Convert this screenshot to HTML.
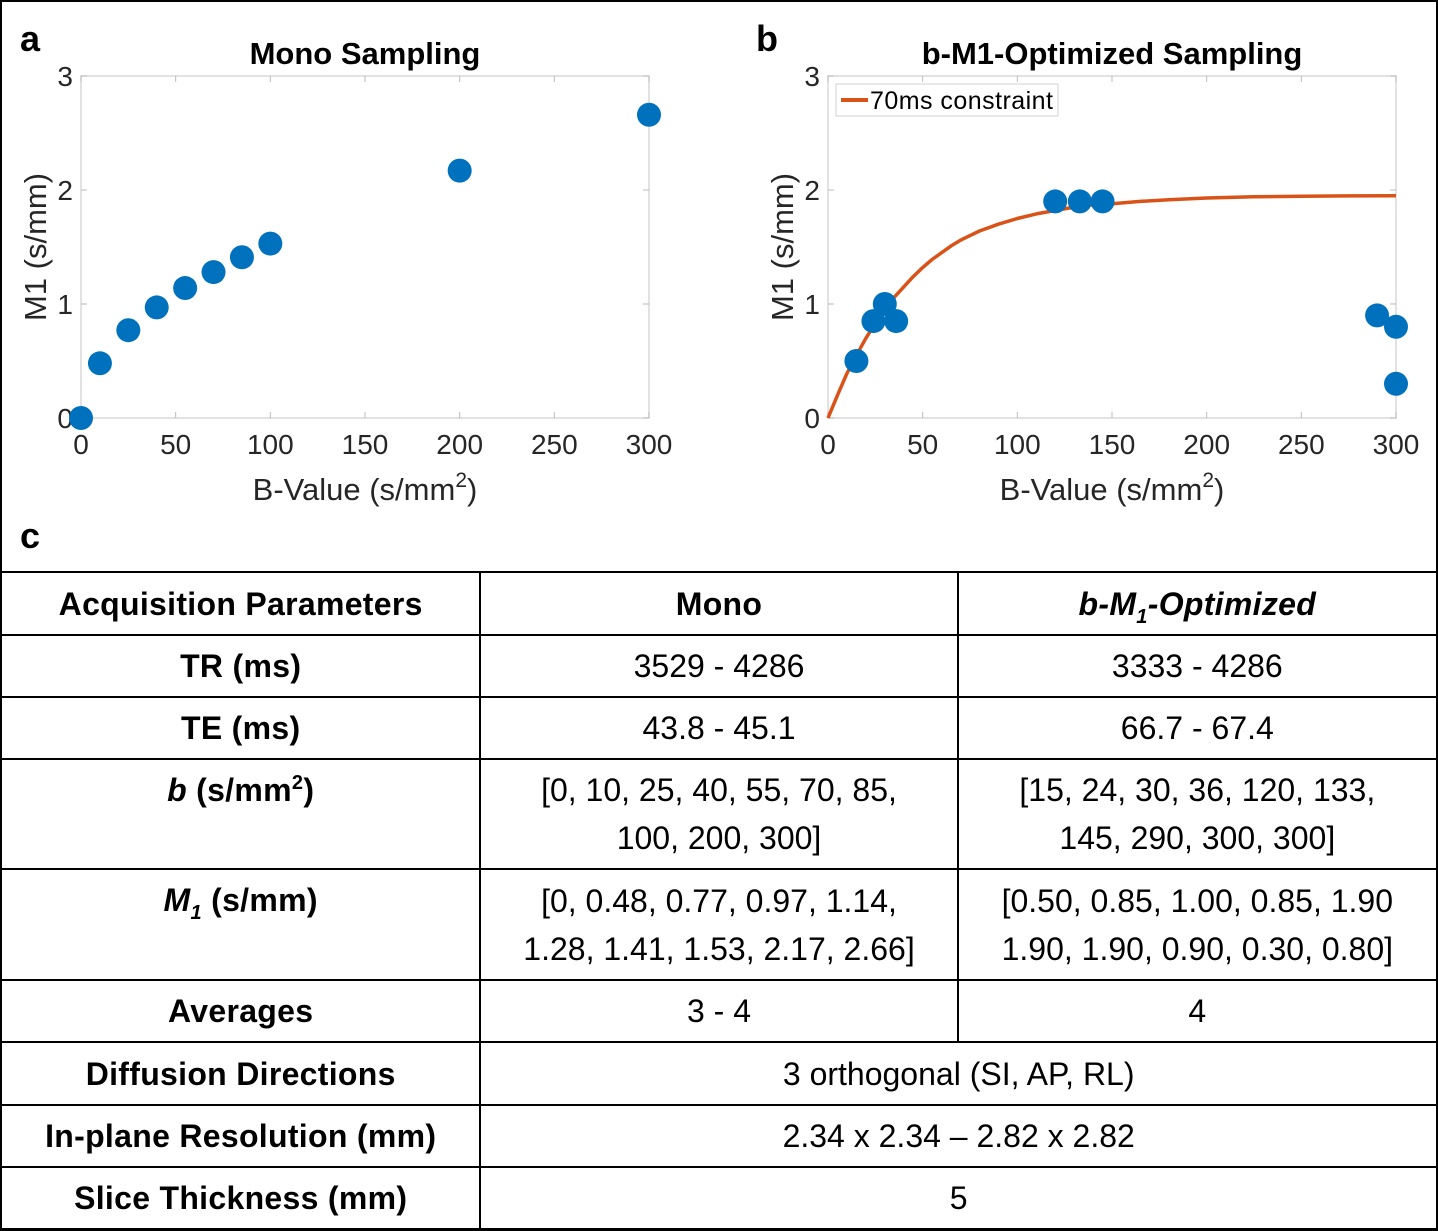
<!DOCTYPE html>
<html><head><meta charset="utf-8"><style>
body{margin:0;background:#fff;}
#root{position:relative;width:1438px;height:1231px;overflow:hidden;font-family:"Liberation Sans",sans-serif;}
.frame{position:absolute;left:0;top:0;width:1434px;height:1227px;border:2px solid #000;}
.panel-letter{position:absolute;font-weight:bold;font-size:36px;}
table{position:absolute;left:0;top:571px;border-collapse:collapse;}
td{border:2px solid #000;text-align:center;font-size:32px;line-height:48px;padding:0;}
td.h{font-weight:bold;font-size:32px;letter-spacing:0.3px;}
.sub{font-size:20px;position:relative;top:8px;line-height:0;}
.sup{font-size:20px;position:relative;top:-12px;line-height:0;}
</style></head><body>
<div id="root">
<div class="frame"></div>
<div class="panel-letter" style="left:20px;top:18px">a</div>
<div class="panel-letter" style="left:756px;top:18px">b</div>
<div class="panel-letter" style="left:20px;top:515px">c</div>
<svg id="charts" width="1438" height="570" style="position:absolute;left:0;top:0"></svg>
<table>
<colgroup><col style="width:480px"><col style="width:478px"><col style="width:480px"></colgroup>
<tr style="height:63px"><td class="h">Acquisition Parameters</td><td class="h">Mono</td><td class="h"><i>b-M<span class="sub">1</span>-Optimized</i></td></tr>
<tr style="height:62px"><td class="h">TR (ms)</td><td>3529 - 4286</td><td>3333 - 4286</td></tr>
<tr style="height:62px"><td class="h">TE (ms)</td><td>43.8 - 45.1</td><td>66.7 - 67.4</td></tr>
<tr style="height:110px"><td class="h" style="vertical-align:top;padding-top:6px"><i>b</i> (s/mm<span class="sup">2</span>)</td><td>[0, 10, 25, 40, 55, 70, 85,<br>100, 200, 300]</td><td>[15, 24, 30, 36, 120, 133,<br>145, 290, 300, 300]</td></tr>
<tr style="height:111px"><td class="h" style="vertical-align:top;padding-top:6px"><i>M<span class="sub">1</span></i> (s/mm)</td><td>[0, 0.48, 0.77, 0.97, 1.14,<br>1.28, 1.41, 1.53, 2.17, 2.66]</td><td>[0.50, 0.85, 1.00, 0.85, 1.90<br>1.90, 1.90, 0.90, 0.30, 0.80]</td></tr>
<tr style="height:62px"><td class="h">Averages</td><td>3 - 4</td><td>4</td></tr>
<tr style="height:63px"><td class="h">Diffusion Directions</td><td colspan="2">3 orthogonal (SI, AP, RL)</td></tr>
<tr style="height:62px"><td class="h">In-plane Resolution (mm)</td><td colspan="2">2.34 x 2.34 – 2.82 x 2.82</td></tr>
<tr style="height:62px"><td class="h">Slice Thickness (mm)</td><td colspan="2">5</td></tr>
</table>
</div>
<script>
const monoB=[0,10,25,40,55,70,85,100,200,300];
const monoM1=[0,0.48,0.77,0.97,1.14,1.28,1.41,1.53,2.17,2.66];
const optB=[15,24,30,36,120,133,145,290,300,300];
const optM1=[0.50,0.85,1.00,0.85,1.90,1.90,1.90,0.90,0.30,0.80];
const curveB=[0,5,10,15,20,25,30,35,40,45,50,55,60,65,70,75,80,90,100,110,120,130,140,150,165,180,200,225,250,275,300];
const curveM1=[0,0.20,0.39,0.55,0.70,0.83,0.95,1.06,1.15,1.24,1.32,1.39,1.45,1.51,1.56,1.60,1.64,1.70,1.75,1.79,1.82,1.85,1.87,1.88,1.90,1.915,1.93,1.94,1.945,1.948,1.95];
const xTicks=[0,50,100,150,200,250,300];
const yTicks=[0,1,2,3];
const NS='http://www.w3.org/2000/svg';
const svg=document.getElementById('charts');
function mk(tag,attrs,parent){const e=document.createElementNS(NS,tag);for(const k in attrs)e.setAttribute(k,attrs[k]);(parent||svg).appendChild(e);return e;}
function chart(id,x0,x1,title,bs,ms,curve){
  const y0=418,y1=76;
  const sx=v=>x0+(v-0)/300*(x1-x0);
  const sy=v=>y0-(v/3)*(y0-y1);
  const g=mk('g',{});
  
  
  const box=mk('rect',{x:x0,y:y1,width:x1-x0,height:y0-y1,fill:'#fff',stroke:'#d9d9d9','stroke-width':1.5},g);
  
  
  xTicks.forEach(t=>{
    const x=sx(t);
    mk('line',{x1:x,y1:y0,x2:x,y2:y0-6,stroke:'#bbb'},g);
    mk('line',{x1:x,y1:y1,x2:x,y2:y1+6,stroke:'#bbb'},g);
    const tx=mk('text',{x:x,y:y0+36,'text-anchor':'middle','font-size':28,fill:'#262626'},g);
    tx.textContent=t;
    
    
  });
  yTicks.forEach(t=>{
    const y=sy(t);
    mk('line',{x1:x0,y1:y,x2:x0+6,y2:y,stroke:'#bbb'},g);
    mk('line',{x1:x1,y1:y,x2:x1-6,y2:y,stroke:'#bbb'},g);
    const tx=mk('text',{x:x0-8,y:y+10,'text-anchor':'end','font-size':28,fill:'#262626'},g);
    tx.textContent=t;
    
    
  });
  const tt=mk('text',{x:(x0+x1)/2,y:64,'text-anchor':'middle','font-size':31,'font-weight':'bold',fill:'#000'},g);
  tt.textContent=title;
  
  
  const xl=mk('text',{x:(x0+x1)/2,y:500,'text-anchor':'middle','font-size':31,fill:'#262626'},g);
  xl.innerHTML='B-Value (s/mm<tspan dy="-13" font-size="21">2</tspan><tspan dy="13">)</tspan>';
  
  
  const yl=mk('text',{x:0,y:0,'text-anchor':'middle','font-size':31,fill:'#262626',transform:`translate(${x0-35},${(y0+y1)/2}) rotate(-90)`},g);
  yl.textContent='M1  (s/mm)';
  
  
  if(curve){
    const d=curveB.map((b,i)=>(i?'L':'M')+sx(b).toFixed(1)+','+sy(curveM1[i]).toFixed(1)).join(' ');
    const p=mk('path',{d:d,fill:'none',stroke:'#d95319','stroke-width':3.5,'stroke-linejoin':'round'},g);
    
    
  }
  bs.forEach((b,i)=>{
    const c=mk('circle',{cx:sx(b),cy:sy(ms[i]),r:12,fill:'#0072bd'},g);
    
    
  });
  if(curve){
    const lg=mk('g',{},g);
    
    
    mk('rect',{x:836,y:84,width:222,height:32,fill:'#fff',stroke:'#d0d0d0'},lg);
    mk('line',{x1:841,y1:100,x2:868,y2:100,stroke:'#d95319','stroke-width':4},lg);
    const lt=mk('text',{x:870,y:109,'font-size':25,fill:'#000','textLength':183},lg);
    lt.textContent='70ms constraint';
  }
}
chart('mono-chart',81,649,'Mono Sampling',monoB,monoM1,false);
chart('optimized-chart',828,1396,'b-M1-Optimized Sampling',optB,optM1,true);
</script>
</body></html>
